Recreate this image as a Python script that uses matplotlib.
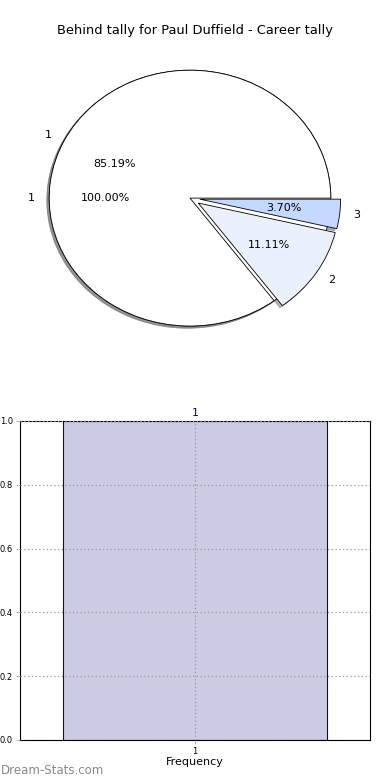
# behind tally chart: pie of tallies on top, frequency bar chart below
import matplotlib
matplotlib.use("Agg")
import matplotlib.pyplot as plt

# data
title = "Behind tally for Paul Duffield - Career tally"
total_labels = ["1"]
total_counts = [1]
tally_labels = ["1", "2", "3"]
tally_counts = [23, 3, 1]
tally_colors = ["#ffffff", "#eaf1fd", "#c5d8fd"]
tally_explode = [0, 0.07, 0.07]

bar_labels = ["1"]
bar_values = [1.0]
y_ticks = [0.0, 0.2, 0.4, 0.6, 0.8, 1.0]

fig = plt.figure(figsize=(3.9, 7.8), dpi=100)

# thin, light shadow like the reference
shadow = {"ox": -0.012, "oy": -0.012, "shade": 0.55}

# pie (drawn on non-equal axes, so it comes out as an ellipse)
ax1 = fig.add_axes([0.0359, 0.541, 0.9026, 0.41])
ax1.pie(total_counts, labels=total_labels, colors=["#ffffff"], autopct="%.2f%%",
        shadow=shadow, wedgeprops={"edgecolor": "black", "linewidth": 0.6},
        textprops={"fontsize": 8})
ax1.pie(tally_counts, labels=tally_labels, colors=tally_colors, explode=tally_explode,
        autopct="%.2f%%", shadow=shadow,
        wedgeprops={"edgecolor": "black", "linewidth": 0.6},
        textprops={"fontsize": 8})
ax1.set_aspect("auto")
ax1.set_xlim(-1.25, 1.25)
ax1.set_ylim(-1.25, 1.25)
fig.text(0.5, 0.961, title, ha="center", va="center", fontsize=9.4)

# frequency bar chart
ax2 = fig.add_axes([0.0513, 0.0513, 0.8974, 0.409])
bars = ax2.bar([1], bar_values, width=0.755, color="#cccce4", edgecolor="#0000a0", linewidth=0.8)
ax2.set_xlim(0.5, 1.5)
ax2.set_ylim(0, 1)
ax2.set_xticks([1])
ax2.set_xticklabels(bar_labels, fontsize=6)
ax2.set_yticks(y_ticks)
ax2.set_yticklabels([f"{v:.1f}" for v in y_ticks], fontsize=6)
ax2.tick_params(length=3, width=0.5, color="#999999", pad=2)
ax2.grid(True, linestyle=(0, (1, 2)), color="#999999", linewidth=0.9)
ax2.set_axisbelow(False)
for b, lab in zip(bars, bar_labels):
    ax2.text(b.get_x() + b.get_width() / 2, b.get_height() + 0.01, lab,
             ha="center", va="bottom", color="#0000a0", fontsize=8)
ax2.set_xlabel("Frequency", fontsize=8, labelpad=1)

fig.text(0.003, 0.012, "Dream-Stats.com", color="#888888", fontsize=8.5, ha="left",
         va="center")

fig.savefig("out.png", dpi=100)
